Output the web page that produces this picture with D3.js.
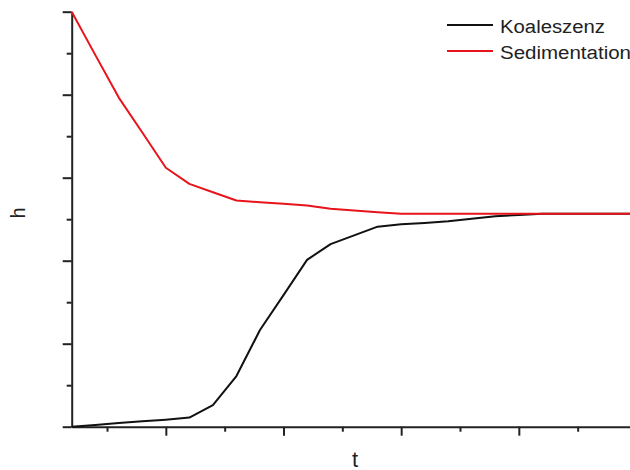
<!DOCTYPE html>
<html>
<head>
<meta charset="utf-8">
<script src="https://cdn.jsdelivr.net/npm/d3@7"></script>
<style>
  html, body { margin: 0; padding: 0; background: #fff; }
  svg { display: block; font-family: "Liberation Sans", Arial, sans-serif; }
</style>
</head>
<body>
<svg id="chart" width="630" height="470"></svg>
<script>
// ---- data ----
const times = [0.2, 0.4, 0.6, 0.8, 1.0, 1.2, 1.4, 1.6, 1.8, 2.0, 2.2, 2.4, 2.6,
               2.8, 3.0, 3.2, 3.4, 3.6, 3.8, 4.0, 4.2, 4.4, 4.6, 4.8, 5.0];
const koaleszenz = [0, 0.04, 0.09, 0.13, 0.17, 0.22, 0.52, 1.22, 2.33, 3.17, 4.02, 4.40, 4.61,
                    4.82, 4.88, 4.91, 4.95, 5.01, 5.07, 5.10, 5.13, 5.13, 5.13, 5.13, 5.13];
const sedimentation = [10, 8.96, 7.93, 7.09, 6.24, 5.85, 5.65, 5.45, 5.41, 5.37, 5.33, 5.25, 5.21,
                       5.17, 5.13, 5.13, 5.13, 5.13, 5.13, 5.13, 5.13, 5.13, 5.13, 5.13, 5.13];
const seriesNames = ["Koaleszenz", "Sedimentation"];
const seriesColors = ["#111111", "#e8141b"];
const xTicks = [0.5, 1.0, 1.5, 2.0, 2.5, 3.0, 3.5, 4.0, 4.5];
const yTicks = [0, 1, 2, 3, 4, 5, 6, 7, 8, 9, 10];
const xTitle = "t";
const yTitle = "h";

// ---- drawing ----
const svg = d3.select("#chart");
const x = d3.scaleLinear().domain([0.2, 5.0]).range([71.7, 636.5]);
const y = d3.scaleLinear().domain([0, 10]).range([426.7, 11.7]);

const isMajorX = v => Math.abs(v - Math.round(v)) < 1e-9;
const isMajorY = v => v % 2 === 0;

// X axis
const gx = svg.append("g").attr("transform", `translate(0,${y(0)})`)
  .call(d3.axisBottom(x).tickValues(xTicks).tickSizeOuter(0).tickFormat(""));
gx.select(".domain").attr("stroke", "#222").attr("stroke-width", 2);
gx.selectAll(".tick line").attr("stroke", "#222").attr("stroke-width", 2)
  .attr("y2", d => isMajorX(d) ? 9 : 5);

// Y axis
const gy = svg.append("g").attr("transform", `translate(${x(0.2)},0)`)
  .call(d3.axisLeft(y).tickValues(yTicks).tickSizeOuter(0).tickFormat(""));
gy.select(".domain").attr("stroke", "#222").attr("stroke-width", 2);
gy.selectAll(".tick line").attr("stroke", "#222").attr("stroke-width", 2)
  .attr("x2", d => isMajorY(d) ? -9 : -5);

// Lines
const line = d3.line().x(d => x(d[0])).y(d => y(d[1]));
const series = [koaleszenz, sedimentation];
series.forEach((vals, i) => {
  svg.append("path")
    .datum(times.map((t, j) => [t, vals[j]]))
    .attr("fill", "none")
    .attr("stroke", seriesColors[i])
    .attr("stroke-width", 2)
    .attr("stroke-linejoin", "round")
    .attr("d", line);
});

// Legend
const legendWidths = [105, 131];
seriesNames.forEach((name, i) => {
  const ly = 25 + i * 26;
  svg.append("line")
    .attr("x1", 447).attr("x2", 493).attr("y1", ly).attr("y2", ly)
    .attr("stroke", seriesColors[i]).attr("stroke-width", 2);
  svg.append("text")
    .attr("x", 500).attr("y", ly + 7.5)
    .attr("font-size", 18)
    .attr("fill", "#222")
    .attr("textLength", legendWidths[i])
    .attr("lengthAdjust", "spacingAndGlyphs")
    .text(name);
});

// Axis titles
svg.append("text")
  .attr("x", 355).attr("y", 466.5)
  .attr("text-anchor", "middle")
  .attr("font-size", 22)
  .attr("fill", "#222")
  .text(xTitle);
svg.append("text")
  .attr("transform", "translate(25,213) rotate(-90)")
  .attr("text-anchor", "middle")
  .attr("font-size", 20)
  .attr("fill", "#222")
  .text(yTitle);
</script>
</body>
</html>
